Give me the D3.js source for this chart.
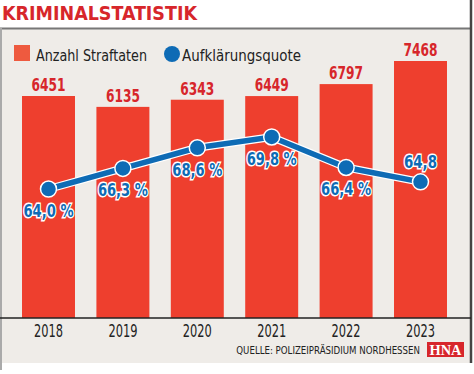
<!DOCTYPE html>
<html>
<head>
<meta charset="utf-8">
<script src="https://cdn.jsdelivr.net/npm/d3@7"></script>
<style>
  body { margin: 0; background: #fff; }
  svg { display: block; }
  text { font-family: "DejaVu Sans Condensed", "Liberation Sans Narrow", sans-serif; }
</style>
</head>
<body>
<div id="chart"></div>
<script>
// data
const years = ['2018', '2019', '2020', '2021', '2022', '2023'];
const straftaten = [6451, 6135, 6343, 6449, 6797, 7468];
const quote = [64.0, 66.3, 68.6, 69.8, 66.4, 64.8];
const quoteLabels = ['64,0 %', '66,3 %', '68,6 %', '69,8 %', '66,4 %', '64,8'];

const W = 474, H = 374;
const RED = '#ee3f2e', RED_TXT = '#d7262b', BLUE = '#0e6bb5', BG = '#efece8';

const svg = d3.select('#chart').append('svg')
    .attr('width', W)
    .attr('height', H);

// squeeze text to the narrow width of the original condensed face
const fit = (sel, w) => sel.attr('textLength', w).attr('lengthAdjust', 'spacingAndGlyphs');

// panel
svg.append('rect').attr('x', 0).attr('y', 29).attr('width', 471).attr('height', 334).attr('fill', BG);
svg.append('line').attr('x1', 0).attr('x2', 471).attr('y1', 28.5).attr('y2', 28.5)
    .attr('stroke', '#777').attr('stroke-width', 2);
svg.append('line').attr('x1', 1).attr('x2', 1).attr('y1', 28).attr('y2', 370)
    .attr('stroke', '#aaa').attr('stroke-width', 2);
svg.append('line').attr('x1', 471).attr('x2', 471).attr('y1', 0).attr('y2', 363)
    .attr('stroke', '#444').attr('stroke-width', 2.5);

// title
fit(svg.append('text')
    .attr('x', 2).attr('y', 20)
    .attr('font-size', 20).attr('font-weight', 'bold')
    .attr('fill', RED_TXT)
    .text('KRIMINALSTATISTIK'), 195);

// legend
svg.append('rect').attr('x', 14).attr('y', 45).attr('width', 16).attr('height', 16).attr('fill', '#ee5a3f');
fit(svg.append('text').attr('x', 36).attr('y', 61).attr('font-size', 16.5).attr('fill', '#222')
    .text('Anzahl Straftaten'), 111);
svg.append('circle').attr('cx', 172).attr('cy', 54).attr('r', 8).attr('fill', BLUE);
fit(svg.append('text').attr('x', 182).attr('y', 61).attr('font-size', 16.5).attr('fill', '#222')
    .text('Aufklärungsquote'), 119);

// scales
const x = d3.scaleBand()
    .domain(years)
    .range([11.3, 457.7])
    .paddingInner(0.288)
    .paddingOuter(0.144);

const y = d3.scaleLinear().domain([0, 8000]).range([318, 42.7]);
const y2 = d3.scaleLinear().domain([60, 70]).range([224.9, 135.2]);

// bars
svg.selectAll('.bar')
    .data(straftaten)
    .enter()
    .append('rect')
    .attr('class', 'bar')
    .attr('x', (d, i) => x(years[i]))
    .attr('y', d => y(d))
    .attr('width', x.bandwidth())
    .attr('height', d => y(0) - y(d))
    .attr('fill', RED);

fit(svg.selectAll('.barlabel')
    .data(straftaten)
    .enter()
    .append('text')
    .attr('x', (d, i) => x(years[i]) + x.bandwidth() / 2)
    .attr('y', d => y(d) - 5)
    .attr('text-anchor', 'middle')
    .attr('font-size', 17).attr('font-weight', 'bold')
    .attr('fill', RED_TXT)
    .text(d => d), 34);

// x axis
const xAxis = svg.append('g')
    .attr('transform', 'translate(0,318)')
    .call(d3.axisBottom(x).tickSize(0).tickPadding(7));
xAxis.select('.domain').remove();
fit(xAxis.selectAll('text')
    .attr('font-size', 17)
    .attr('fill', '#222')
    .style('font-family', '"DejaVu Sans Condensed", sans-serif'), 29);
svg.append('line').attr('x1', 0).attr('x2', 471).attr('y1', 318).attr('y2', 318)
    .attr('stroke', '#222').attr('stroke-width', 1.5);

// line
const cx = (d, i) => x(years[i]) + x.bandwidth() / 2;
const line = d3.line().x(cx).y(d => y2(d));
svg.append('path').datum(quote).attr('d', line)
    .attr('fill', 'none').attr('stroke', '#fff').attr('stroke-width', 8);
svg.append('path').datum(quote).attr('d', line)
    .attr('fill', 'none').attr('stroke', BLUE).attr('stroke-width', 5.5);

svg.selectAll('.dot')
    .data(quote)
    .enter()
    .append('circle')
    .attr('cx', cx)
    .attr('cy', d => y2(d))
    .attr('r', 8)
    .attr('fill', BLUE)
    .attr('stroke', '#fff')
    .attr('stroke-width', 1.5);

svg.selectAll('.qlabel')
    .data(quote)
    .enter()
    .append('text')
    .attr('x', cx)
    .attr('y', (d, i) => i === 5 ? y2(d) - 14 : y2(d) + 28)
    .attr('text-anchor', 'middle')
    .attr('font-size', 18.5).attr('font-weight', 'bold')
    .attr('fill', BLUE)
    .attr('stroke', '#fff').attr('stroke-width', 3)
    .attr('paint-order', 'stroke')
    .attr('textLength', (d, i) => i === 5 ? 33 : 50)
    .attr('lengthAdjust', 'spacingAndGlyphs')
    .text((d, i) => quoteLabels[i]);

// source
svg.append('text')
    .attr('x', 420).attr('y', 354)
    .attr('text-anchor', 'end')
    .attr('font-size', 9.6)
    .attr('fill', '#222')
    .text('QUELLE: POLIZEIPRÄSIDIUM NORDHESSEN');

svg.append('rect').attr('x', 427).attr('y', 342).attr('width', 37).attr('height', 15).attr('fill', '#d7262b');
fit(svg.append('text')
    .attr('x', 445.5).attr('y', 355)
    .attr('text-anchor', 'middle')
    .attr('font-size', 14).attr('font-weight', 'bold')
    .attr('fill', '#fff')
    .style('font-family', '"Liberation Serif", "DejaVu Serif", serif')
    .text('HNA'), 32);
</script>
</body>
</html>
